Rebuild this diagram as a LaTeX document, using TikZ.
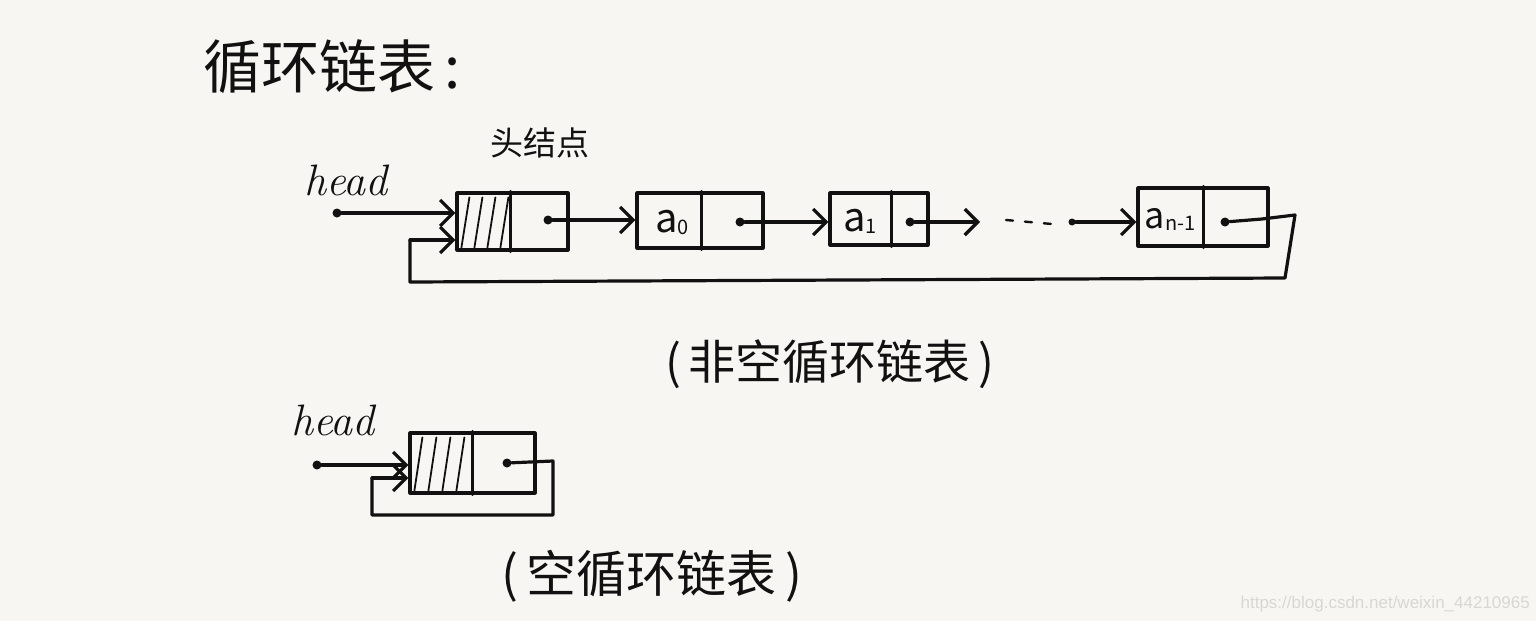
\documentclass[tikz,border=0pt]{standalone}
\usepackage{fontspec}
\usetikzlibrary{arrows.meta,calc}
\newfontfamily\cjk{Noto Sans CJK SC}
\newfontfamily\wm{Liberation Sans}
\definecolor{paper}{HTML}{F7F6F2}
\definecolor{ink}{HTML}{111111}
\definecolor{wmgray}{HTML}{D9D7D3}
\newcommand{\lab}[2]{{\cjk\fontsize{#1}{#1}\selectfont a}\raisebox{-2pt}{\cjk\fontsize{20}{20}\selectfont #2}}
\tikzset{
  pen/.style={line width=3.2pt, draw=ink, line cap=round, line join=round},
  ptr/.style={pen, -{Straight Barb[length=13pt,width=26pt,line width=3.2pt]}},
  cell/.style={pen, rectangle, inner sep=0pt},
  dotnode/.style={circle, fill=ink, inner sep=0pt, minimum size=9pt},
  hatch/.style={line width=1.8pt, draw=ink, line cap=round},
  hand/.style={text=ink, inner sep=0pt},
}
\begin{document}
\begin{tikzpicture}[x=1pt,y=-1pt]
\fill[paper] (0,0) rectangle (1536,621);
\useasboundingbox (0,0) rectangle (1536,621);

% title
\node[hand, anchor=west, font=\cjk\fontsize{58}{62}\selectfont] (title) at (203,67) {循环链表\,:};

% ---------- non-empty list ----------
\node[hand, font=\cjk\fontsize{33}{36}\selectfont] (hnlabel) at (540,143) {头结点};
\node[hand, font=\itshape\fontsize{44}{48}\selectfont] (head1) at (346,180) {head};

\node[cell, minimum width=111pt, minimum height=57pt] (h) at (512.5,221.5) {};
\draw[pen] ($(h.north west)+(55,0)$) -- ($(h.south west)+(55,0)$);
\foreach \x in {0,13,26,39}{
  \draw[hatch] ($(h.south west)+(6+\x,-4)$) -- ($(h.north west)+(14+\x,6)$);
}
\node[dotnode] (hd) at (548,220) {};

\node[cell, minimum width=126pt, minimum height=55pt] (a0) at (700,220.5) {};
\draw[pen] ($(a0.north west)+(66,0)$) -- ($(a0.south west)+(66,0)$);
\node[hand] (a0t) at (672,222) {\lab{40}{0}};
\node[dotnode] (a0d) at (740,222) {};

\node[cell, minimum width=98pt, minimum height=52pt] (a1) at (879,219) {};
\draw[pen] ($(a1.north west)+(63,0)$) -- ($(a1.south west)+(63,0)$);
\node[hand] (a1t) at (860,221) {\lab{40}{1}};
\node[dotnode] (a1d) at (910,222) {};

\coordinate (gap) at (980,222);
\node[dotnode, minimum size=7pt] (gd) at (1072,222) {};
\draw[line width=2.4pt, draw=ink, line cap=round, dash pattern=on 7pt off 12pt] (1006,220) -- (1052,224);

\node[cell, minimum width=130pt, minimum height=58pt] (an) at (1203,217) {};
\draw[pen] ($(an.north west)+(67,0)$) -- ($(an.south west)+(67,0)$);
\node[hand] (ant) at (1170,219) {\lab{36}{n-1}};
\node[dotnode] (and) at (1225,222) {};

\node[dotnode] (p1) at (337,213) {};
\draw[ptr] (p1) -- (p1 -| h.west);
\draw[ptr] (hd) -- (hd -| a0.west);
\draw[ptr] (a0d) -- (a0d -| a1.west);
\draw[ptr] (a1d) -- (gap);
\draw[ptr] (gd) -- (gd -| an.west);

\coordinate (r0) at (1262,219);
\coordinate (r1) at (1295,215);
\coordinate (r2) at (1285,278);
\coordinate (r3) at (410,282);
\coordinate (r4) at (410,240);
\draw[pen] (and) -- (r0) -- (r1) -- (r2) -- (r3) -- (r4) -- (430,240);
\draw[ptr] (r4) -- (r4 -| h.west);

\node[hand, font=\cjk\fontsize{47}{50}\selectfont] (cap1) at (830,364) {(\,非空循环链表\,)};

% ---------- empty list ----------
\node[hand, font=\itshape\fontsize{44}{48}\selectfont] (head2) at (333,420) {head};
\node[cell, minimum width=125pt, minimum height=60pt] (e) at (472.5,463) {};
\draw[pen] ($(e.north west)+(64,0)$) -- ($(e.south west)+(64,0)$);
\foreach \x in {0,14,28,42}{
  \draw[hatch] ($(e.south west)+(6+\x,-4)$) -- ($(e.north west)+(14+\x,6)$);
}
\node[dotnode] (ed) at (507,463) {};
\node[dotnode] (p2) at (317,465) {};
\draw[ptr] (p2) -- (p2 -| e.west);
\coordinate (s1) at (553,461);
\coordinate (s2) at (553,515);
\coordinate (s3) at (372,515);
\coordinate (s4) at (372,478);
\draw[pen] (ed) -- (s1) -- (s2) -- (s3) -- (s4);
\draw[ptr] (s4) -- (s4 -| e.west);

\node[hand, font=\cjk\fontsize{50}{54}\selectfont] (cap2) at (652,576) {(\,空循环链表\,)};

% watermark
\node[anchor=east, text=wmgray, font=\wm\fontsize{17}{19}\selectfont, inner sep=0pt] (wmark) at (1530,604) {https://blog.csdn.net/weixin\_44210965};
\end{tikzpicture}
\end{document}
